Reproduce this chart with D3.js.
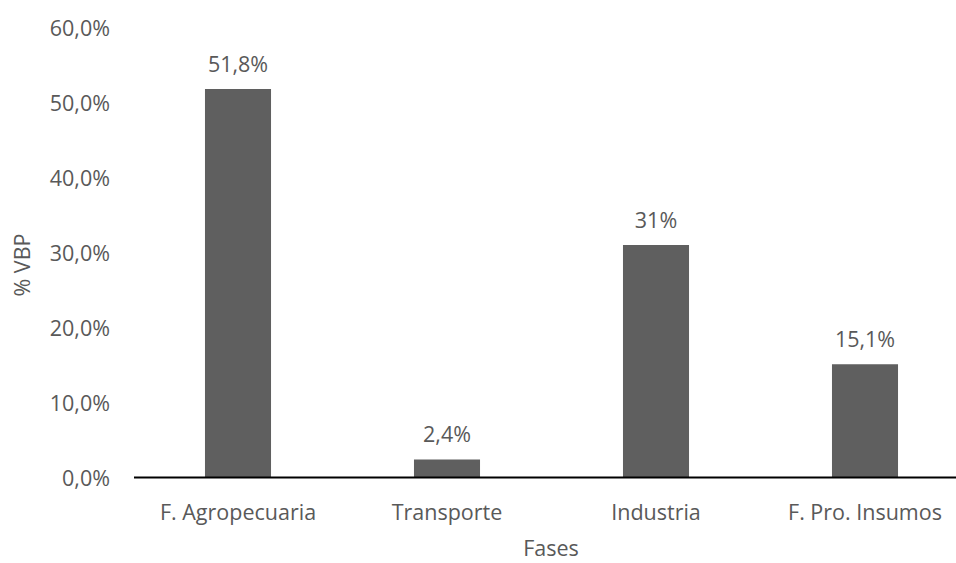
<!DOCTYPE html>
<html>
<head>
<meta charset="utf-8">
<script src="https://cdn.jsdelivr.net/npm/d3@7"></script>
<style>
  html, body { margin: 0; padding: 0; background: #fff; }
  svg { display: block; }
  text { font-family: "Open Sans", "Liberation Sans", sans-serif; fill: #595959; }
</style>
</head>
<body>
<svg id="chart" width="956" height="563"></svg>
<script>
// Share of gross production value (% VBP) by phase of the chain
const categories = ["F. Agropecuaria", "Transporte", "Industria", "F. Pro. Insumos"];
const values = [51.8, 2.4, 31, 15.1];
const valueLabels = ["51,8%", "2,4%", "31%", "15,1%"];
const yTicks = [0, 10, 20, 30, 40, 50, 60];

const svg = d3.select("#chart");
const FS = "21.5px";

const x = d3.scaleBand()
  .domain(categories)
  .range([133.5, 969.5])
  .paddingInner(0.684)
  .paddingOuter(0.342);

const y = d3.scaleLinear()
  .domain([0, 60])
  .range([477.5, 27.5]);

const fmt = v => v.toFixed(1).replace(".", ",") + "%";

// Y axis labels (no axis line, no gridlines)
const yAxis = d3.axisLeft(y).tickValues(yTicks).tickFormat(fmt).tickSize(0).tickPadding(0);
const gy = svg.append("g").attr("transform", "translate(110,0)").call(yAxis);
gy.select(".domain").remove();
gy.selectAll("text")
  .attr("font-family", null).attr("font-size", null)
  .style("font-size", FS)
  .attr("dy", "0.35em");

// Bars
svg.append("g").selectAll("rect")
  .data(values)
  .join("rect")
  .attr("x", (d, i) => x(categories[i]))
  .attr("width", x.bandwidth())
  .attr("y", d => y(d))
  .attr("height", d => y(0) - y(d))
  .attr("fill", "#5f5f5f");

// Value labels
svg.append("g").selectAll("text")
  .data(values)
  .join("text")
  .attr("x", (d, i) => x(categories[i]) + x.bandwidth() / 2)
  .attr("y", d => y(d) - 25)
  .attr("text-anchor", "middle")
  .attr("dy", "0.35em")
  .style("font-size", FS)
  .text((d, i) => valueLabels[i]);

// X axis
const xAxis = d3.axisBottom(x).tickSize(0).tickPadding(0);
const gx = svg.append("g").attr("transform", `translate(0,${y(0)})`).call(xAxis);
gx.select(".domain").remove();
gx.selectAll("text")
  .attr("font-family", null).attr("font-size", null)
  .attr("y", 35).attr("dy", "0.35em")
  .style("font-size", FS);
svg.append("line")
  .attr("x1", 134).attr("x2", 956)
  .attr("y1", y(0)).attr("y2", y(0))
  .attr("stroke", "#000").attr("stroke-width", 2);

// Axis titles
svg.append("text")
  .attr("transform", "translate(22,265) rotate(-90)")
  .attr("text-anchor", "middle")
  .attr("dy", "0.35em")
  .style("font-size", FS)
  .text("% VBP");

svg.append("text")
  .attr("x", 551).attr("y", 548)
  .attr("text-anchor", "middle")
  .attr("dy", "0.35em")
  .style("font-size", FS)
  .text("Fases");
</script>
</body>
</html>
